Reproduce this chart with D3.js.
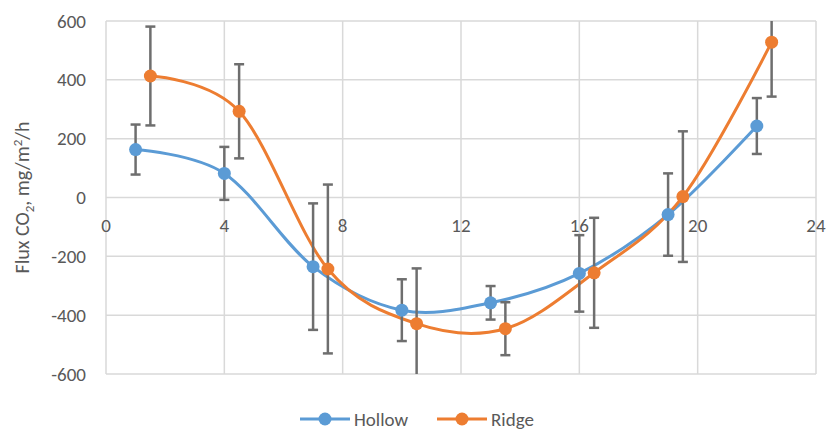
<!DOCTYPE html>
<html>
<head>
<meta charset="utf-8">
<script src="https://cdn.jsdelivr.net/npm/d3@7"></script>
<style>
  body { margin: 0; background: #fff; }
  text { font-family: Calibri, Carlito, Lato, sans-serif; fill: #595959; }
</style>
</head>
<body>
<div id="chart"></div>
<script>
(function(){
  var width = 830,
      height = 432;

  // data
  var hollowX = [1, 4, 7, 10, 13, 16, 19, 22];
  var hollowY = [163, 82, -235, -383, -358, -258, -58, 243];
  var hollowErr = [85, 90, 215, 105, 57, 130, 140, 95];

  var ridgeX = [1.5, 4.5, 7.5, 10.5, 13.5, 16.5, 19.5, 22.5];
  var ridgeY = [413, 293, -243, -429, -446, -256, 3, 528];
  var ridgeErr = [168, 160, 287, 188, 90, 187, 222, 185];

  var xTicks = [0, 4, 8, 12, 16, 20, 24];
  var yTicks = [-600, -400, -200, 0, 200, 400, 600];

  var seriesNames = ['Hollow', 'Ridge'];
  var colors = ['#5b9bd5', '#ed7d31'];

  var series = [
    { name: seriesNames[0], color: colors[0], pts: hollowX.map(function(x, i){ return { x: x, y: hollowY[i], e: hollowErr[i] } }) },
    { name: seriesNames[1], color: colors[1], pts: ridgeX.map(function(x, i){ return { x: x, y: ridgeY[i], e: ridgeErr[i] } }) }
  ];

  var plot = { left: 106, right: 816, top: 21, bottom: 374 };

  var x = d3.scaleLinear().domain([0, 24]).range([plot.left, plot.right]);
  var y = d3.scaleLinear().domain([-600, 600]).range([plot.bottom, plot.top]);

  var svg = d3.select('#chart')
    .append('svg')
    .attr('width', width)
    .attr('height', height);

  svg.append('defs').append('clipPath')
    .attr('id', 'clip')
    .append('rect')
    .attr('x', plot.left - 10)
    .attr('y', plot.top)
    .attr('width', plot.right - plot.left + 20)
    .attr('height', plot.bottom - plot.top);

  // gridlines
  svg.append('g')
    .selectAll('line.h')
    .data(yTicks)
    .enter().append('line')
    .attr('x1', plot.left).attr('x2', plot.right)
    .attr('y1', function(d){ return y(d) }).attr('y2', function(d){ return y(d) })
    .attr('stroke', '#d9d9d9').attr('stroke-width', 1.5);

  svg.append('g')
    .selectAll('line.v')
    .data(xTicks)
    .enter().append('line')
    .attr('y1', plot.top).attr('y2', plot.bottom)
    .attr('x1', function(d){ return x(d) }).attr('x2', function(d){ return x(d) })
    .attr('stroke', '#d9d9d9').attr('stroke-width', 1.5);

  // y tick labels
  svg.append('g')
    .selectAll('text')
    .data(yTicks)
    .enter().append('text')
    .attr('x', 86)
    .attr('y', function(d){ return y(d) })
    .attr('dy', '0.35em')
    .attr('text-anchor', 'end')
    .style('font-size', '19px')
    .text(function(d){ return d });

  // x tick labels, below the zero line
  svg.append('g')
    .selectAll('text')
    .data(xTicks)
    .enter().append('text')
    .attr('x', function(d){ return x(d) })
    .attr('y', y(0) + 28)
    .attr('dy', '0.35em')
    .attr('text-anchor', 'middle')
    .style('font-size', '19px')
    .text(function(d){ return d });

  // y axis title
  var title = svg.append('text')
    .attr('transform', 'translate(29,' + y(0) + ') rotate(-90)')
    .attr('text-anchor', 'middle')
    .style('font-size', '20px');
  title.append('tspan').text('Flux CO');
  title.append('tspan').attr('dy', 5).style('font-size', '13px').text('2');
  title.append('tspan').attr('dy', -5).text(', mg/m');
  title.append('tspan').attr('dy', -7).style('font-size', '13px').text('2');
  title.append('tspan').attr('dy', 7).text('/h');

  var g = svg.append('g').attr('clip-path', 'url(#clip)');

  var line = d3.line()
    .x(function(d){ return x(d.x) })
    .y(function(d){ return y(d.y) })
    .curve(d3.curveCardinal.tension(0));

  series.forEach(function(s){
    g.append('path')
      .datum(s.pts)
      .attr('fill', 'none')
      .attr('stroke', s.color)
      .attr('stroke-width', 3)
      .attr('d', line);
  });

  // error bars
  series.forEach(function(s){
    var eb = g.append('g').attr('stroke', '#6e6e6e').attr('stroke-width', 2.5);
    eb.selectAll('line.bar')
      .data(s.pts)
      .enter().append('line')
      .attr('x1', function(d){ return x(d.x) }).attr('x2', function(d){ return x(d.x) })
      .attr('y1', function(d){ return y(d.y + d.e) }).attr('y2', function(d){ return y(d.y - d.e) });
    [1, -1].forEach(function(sgn){
      eb.selectAll('line.cap' + sgn)
        .data(s.pts)
        .enter().append('line')
        .attr('x1', function(d){ return x(d.x) - 5 }).attr('x2', function(d){ return x(d.x) + 5 })
        .attr('y1', function(d){ return y(d.y + sgn * d.e) }).attr('y2', function(d){ return y(d.y + sgn * d.e) });
    });
  });

  series.forEach(function(s){
    g.selectAll(null)
      .data(s.pts)
      .enter().append('circle')
      .attr('cx', function(d){ return x(d.x) })
      .attr('cy', function(d){ return y(d.y) })
      .attr('r', 6.5)
      .attr('fill', s.color);
  });

  // legend
  var legendX = [300, 437];
  var legend = svg.append('g')
    .selectAll('g')
    .data(series)
    .enter().append('g')
    .attr('transform', function(d, i){ return 'translate(' + legendX[i] + ',419)' });
  legend.append('line')
    .attr('x1', 0).attr('x2', 50)
    .attr('stroke', function(d){ return d.color })
    .attr('stroke-width', 3);
  legend.append('circle')
    .attr('cx', 25).attr('r', 6.5)
    .attr('fill', function(d){ return d.color });
  legend.append('text')
    .attr('x', 54)
    .attr('dy', '0.35em')
    .style('font-size', '19px')
    .text(function(d){ return d.name });
})()
</script>
</body>
</html>
